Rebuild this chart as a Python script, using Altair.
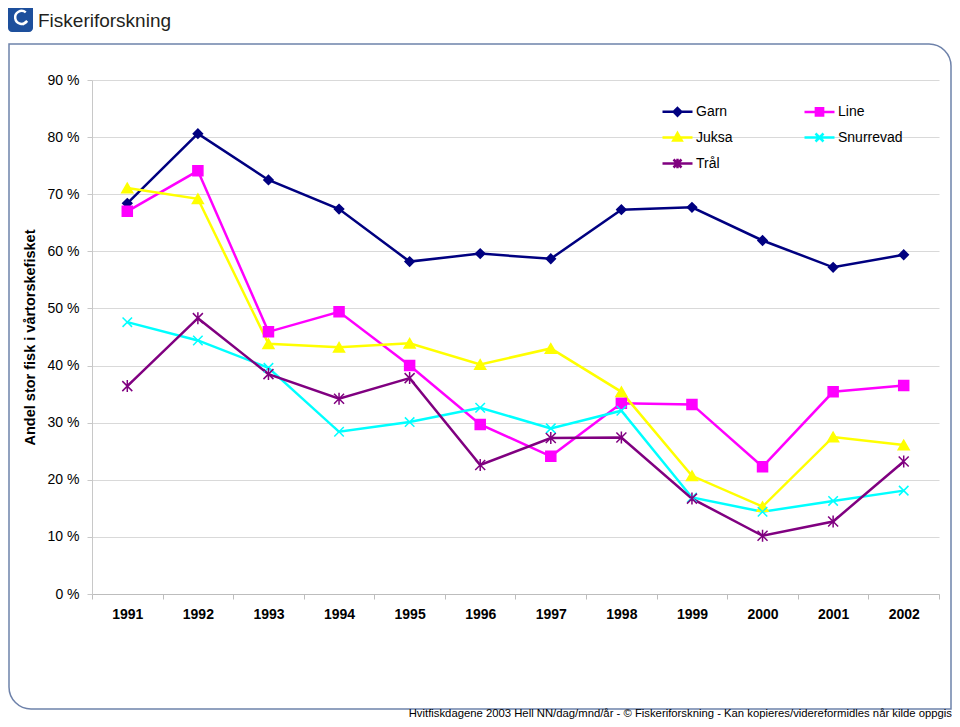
import altair as alt
import pandas as pd

years = ["1991", "1992", "1993", "1994", "1995", "1996", "1997", "1998", "1999", "2000", "2001", "2002"]
series_names = ["Garn", "Line", "Juksa", "Snurrevad", "Trål"]
garn = [68.4, 80.6, 72.5, 67.4, 58.2, 59.6, 58.7, 67.3, 67.7, 61.9, 57.2, 59.4]
line = [67.0, 74.1, 45.9, 49.4, 40.0, 29.7, 24.1, 33.4, 33.2, 22.3, 35.4, 36.5]
juksa = [71.1, 69.2, 43.8, 43.2, 43.9, 40.2, 43.0, 35.4, 20.7, 15.3, 27.5, 26.1]
snurrevad = [47.6, 44.4, 39.6, 28.4, 30.1, 32.6, 29.0, 32.1, 16.9, 14.4, 16.3, 18.1]
tral = [36.4, 48.3, 38.5, 34.2, 37.8, 22.6, 27.3, 27.4, 16.7, 10.2, 12.7, 23.2]
y_ticks = [0, 10, 20, 30, 40, 50, 60, 70, 80, 90]

y_title = "Andel stor fisk i vårtorskefisket"
logo_text = "Fiskeriforskning"
footer_text = "Hvitfiskdagene 2003 Hell NN/dag/mnd/år - © Fiskeriforskning - Kan kopieres/videreformidles når kilde oppgis"

colors = ["#000080", "#FF00FF", "#FFFF00", "#00FFFF", "#800080"]
marker_shapes = [
    "diamond",
    "square",
    "triangle-up",
    "M-1,-1L1,1M-1,1L1,-1",
    "M-1,-1L1,1M-1,1L1,-1M0,-1.2L0,1.2",
]
marker_sizes = [85, 100, 120, 90, 100]
# legend symbols: a line segment with the marker drawn by strokes only
legend_shapes = [
    "M-1.5,0L1.5,0M0,-0.38L0.38,0L0,0.38L-0.38,0ZM0,-0.13L0.13,0L0,0.13L-0.13,0Z",
    "M-1.5,0L1.5,0M-0.36,-0.36L0.36,-0.36L0.36,0.36L-0.36,0.36ZM-0.12,-0.12L0.12,-0.12L0.12,0.12L-0.12,0.12Z",
    "M-1.5,0L1.5,0M0,-0.45L0.42,0.3L-0.42,0.3ZM0,-0.1L0.12,0.1L-0.12,0.1Z",
    "M-1.5,0L1.5,0M-0.4,-0.4L0.4,0.4M-0.4,0.4L0.4,-0.4",
    "M-1.5,0L1.5,0M-0.4,-0.4L0.4,0.4M-0.4,0.4L0.4,-0.4M0,-0.48L0,0.48",
]
# legend fills column by column: Garn, Juksa, Trål | Line, Snurrevad
legend_order = [0, 2, 4, 1, 3]

values = {"Garn": garn, "Line": line, "Juksa": juksa, "Snurrevad": snurrevad, "Trål": tral}
rows = []
for s in series_names:
    for yr, v in zip(years, values[s]):
        rows.append({"year": yr, "series": s, "value": v})
df = pd.DataFrame(rows)

FONT = "Liberation Sans"
W, H = 847, 514

x_enc = alt.X(
    "year:O",
    sort=years,
    scale=alt.Scale(type="band", paddingInner=0, paddingOuter=0),
    axis=alt.Axis(
        title=None, labelAngle=0, labelFontWeight="bold", labelFontSize=14, labelFont=FONT,
        labelColor="black", tickBand="extent", tickSize=5, tickColor="#BDBDBD",
        domainColor="#BDBDBD", labelPadding=8, grid=False,
    ),
)
y_enc = alt.Y(
    "value:Q",
    scale=alt.Scale(domain=[0, 90], nice=False),
    axis=alt.Axis(
        values=y_ticks, labelExpr="datum.value + ' %'", grid=True, gridColor="#D9D9D9",
        domainColor="#C8C8C8", tickColor="#C8C8C8", tickSize=5, labelPadding=8,
        labelFontSize=14, labelFont=FONT, labelColor="black",
        title=y_title, titleFontSize=14.5, titleFontWeight="bold", titleFont=FONT,
        titleColor="black", titleX=-62, titleY=H / 2, titleAngle=270, titleBaseline="middle",
    ),
)

base = alt.Chart(df).encode(x=x_enc, y=y_enc)

lines = base.mark_line(strokeWidth=2.5).encode(
    stroke=alt.Stroke("series:N", scale=alt.Scale(domain=series_names, range=colors), legend=None),
)

marker_layers = []
for name, col, shp, sz in zip(series_names, colors, marker_shapes, marker_sizes):
    sub = base.transform_filter(alt.datum.series == name)
    marker_layers.append(sub.mark_point(filled=True, opacity=1, strokeWidth=0, shape=shp, size=sz, fill=col))
    marker_layers.append(sub.mark_point(filled=False, opacity=1, strokeWidth=1.5, shape=shp, size=sz, stroke=col))

leg_domain = [series_names[i] for i in legend_order]
leg_colors = [colors[i] for i in legend_order]
leg_shapes = [legend_shapes[i] for i in legend_order]

leg = alt.Legend(
    title=None, orient="none", legendX=574, legendY=20, columns=2,
    columnPadding=66, rowPadding=5, symbolSize=400, symbolStrokeWidth=2.5, symbolOpacity=1,
    labelFont=FONT, labelFontSize=14, labelColor="black", labelOffset=7, padding=0,
)
hidden = base.mark_point(filled=False, size=0, strokeWidth=2.5).encode(
    color=alt.Color("series:N", scale=alt.Scale(domain=leg_domain, range=leg_colors), legend=leg),
    shape=alt.Shape("series:N", scale=alt.Scale(domain=leg_domain, range=leg_shapes), legend=leg),
)

one = alt.Data(values=[{"k": 0}])
frame = alt.Chart(one).mark_rect(
    filled=False, stroke="#6E82AA", strokeWidth=1.5,
    cornerRadiusTopRight=22, cornerRadiusBottomLeft=22,
).encode(x=alt.value(-83), x2=alt.value(859), y=alt.value(-36), y2=alt.value(629))

logo_box = alt.Chart(one).mark_rect(color="#1D4F9C", cornerRadius=4).encode(
    x=alt.value(-84), x2=alt.value(-59), y=alt.value(-76), y2=alt.value(-48)
)
logo_icon = alt.Chart(one).mark_point(
    shape="M0.55,-0.65A0.75,0.75 0 1 0 0.7,0.35L0.2,0.75", filled=False,
    stroke="white", strokeWidth=2.5, opacity=1, size=300,
).encode(x=alt.value(-71), y=alt.value(-62))
logo = alt.Chart(one).mark_text(
    text=logo_text, align="left", baseline="alphabetic", fontSize=19,
    font=FONT, color="#231F20",
).encode(x=alt.value(-54), y=alt.value(-53))
footer = alt.Chart(one).mark_text(
    text=footer_text, align="right", baseline="alphabetic", fontSize=11.3,
    font=FONT, color="black",
).encode(x=alt.value(860), y=alt.value(637))

chart = alt.layer(
    frame, logo_box, logo_icon, logo, footer, lines, *marker_layers, hidden
).properties(
    width=W, height=H,
    autosize=alt.AutoSizeParams(type="none"),
    padding={"left": 84, "top": 72, "right": 13, "bottom": 125},
    background="white",
).configure_view(stroke=None)

chart.save("out.html", embed_options={"renderer": "svg", "actions": False})
